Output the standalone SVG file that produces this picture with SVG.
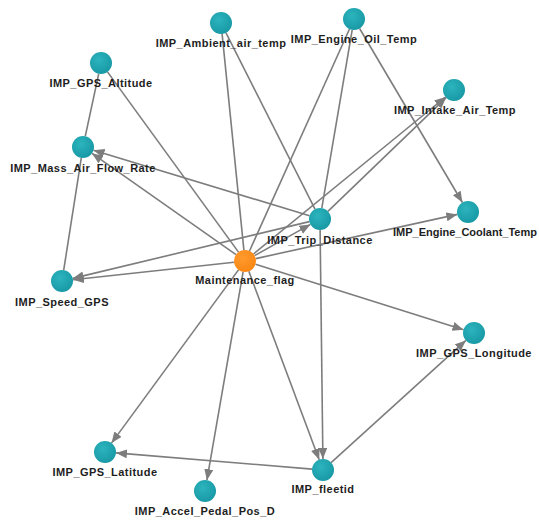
<svg xmlns="http://www.w3.org/2000/svg" width="539" height="521" viewBox="0 0 539 521">
<style>
.e{stroke:#7d7d7d;stroke-width:1.6;fill:none}
.a{marker-end:url(#arr)}
.n{fill:url(#teal)}
.m{fill:url(#orange)}
text{font-family:"Liberation Sans",Arial,sans-serif;font-size:11px;font-weight:bold;fill:#1e1e1e;text-anchor:middle;letter-spacing:0.45px}
</style>
<defs>
<radialGradient id="teal" cx="0.4" cy="0.35" r="0.7">
<stop offset="0" stop-color="#2cb4bd"/>
<stop offset="1" stop-color="#1798a4"/>
</radialGradient>
<radialGradient id="orange" cx="0.4" cy="0.35" r="0.7">
<stop offset="0" stop-color="#ff9a2e"/>
<stop offset="1" stop-color="#fb8612"/>
</radialGradient>
<marker id="arr" markerUnits="userSpaceOnUse" markerWidth="12" markerHeight="10" refX="11" refY="4.5" orient="auto">
<path d="M0,0 L11,4.5 L0,9 z" fill="#7d7d7d"/>
</marker>
</defs>
<rect width="539" height="521" fill="#ffffff"/>
<g id="connectors">
<line class="e" x1="98.7" y1="73.8" x2="85.3" y2="136.2"/>
<line class="e" x1="81.3" y1="157.9" x2="63.7" y2="270.1"/>
<line class="e" x1="107.5" y1="71.9" x2="238.5" y2="252.1"/>
<line class="e" x1="222.1" y1="33.9" x2="243.9" y2="250.1"/>
<line class="e" x1="226" y1="32.8" x2="315" y2="209.2"/>
<line class="e" x1="349.5" y1="29" x2="249.5" y2="251"/>
<line class="e" x1="352.2" y1="29.8" x2="321.8" y2="208.2"/>
<line class="e a" x1="359.6" y1="28.5" x2="462.4" y2="202.5"/>
<line class="e a" x1="253.5" y1="254" x2="445.5" y2="97"/>
<line class="e a" x1="327.9" y1="211.4" x2="446.1" y2="97.6"/>
<line class="e a" x1="309.5" y1="215.8" x2="93.5" y2="150.2"/>
<line class="e a" x1="236" y1="254.7" x2="92" y2="153.3"/>
<line class="e a" x1="234.1" y1="262.2" x2="72.9" y2="279.8"/>
<line class="e a" x1="309.3" y1="221.6" x2="72.7" y2="278.4"/>
<line class="e a" x1="254.6" y1="255.6" x2="310.4" y2="224.4"/>
<line class="e a" x1="255.7" y1="258.6" x2="457.3" y2="214.4"/>
<line class="e a" x1="255.5" y1="264.3" x2="463.5" y2="329.7"/>
<line class="e a" x1="248.8" y1="271.3" x2="319.2" y2="459.7"/>
<line class="e a" x1="320.1" y1="230" x2="322.9" y2="459"/>
<line class="e a" x1="331.1" y1="462.6" x2="465.9" y2="340.4"/>
<line class="e a" x1="312" y1="469.1" x2="116" y2="452.9"/>
<line class="e a" x1="238.5" y1="269.9" x2="111.5" y2="443.1"/>
<line class="e a" x1="243.1" y1="271.8" x2="206.9" y2="480.2"/>
</g>
<g id="n-ambient"><circle class="n" cx="221" cy="23" r="11"/><text x="221" y="47">IMP_Ambient_air_temp</text></g>
<g id="n-oil"><circle class="n" cx="354" cy="19" r="11"/><text x="354" y="43">IMP_Engine_Oil_Temp</text></g>
<g id="n-altitude"><circle class="n" cx="101" cy="63" r="11"/><text x="101" y="87">IMP_GPS_Altitude</text></g>
<g id="n-massair"><circle class="n" cx="83" cy="147" r="11"/><text x="83" y="172">IMP_Mass_Air_Flow_Rate</text></g>
<g id="n-intake"><circle class="n" cx="454" cy="90" r="11"/><text x="455" y="114">IMP_Intake_Air_Temp</text></g>
<g id="n-trip"><circle class="n" cx="320" cy="219" r="11"/><text x="320" y="244">IMP_Trip_Distance</text></g>
<g id="n-coolant"><circle class="n" cx="468" cy="212" r="11"/><text x="537" y="236" style="text-anchor:end;letter-spacing:0px">IMP_Engine_Coolant_Temp</text></g>
<g id="n-maint"><circle class="m" cx="245" cy="261" r="11"/><text x="245" y="284">Maintenance_flag</text></g>
<g id="n-speed"><circle class="n" cx="62" cy="281" r="11"/><text x="62" y="306">IMP_Speed_GPS</text></g>
<g id="n-longitude"><circle class="n" cx="474" cy="333" r="11"/><text x="474" y="357">IMP_GPS_Longitude</text></g>
<g id="n-latitude"><circle class="n" cx="105" cy="452" r="11"/><text x="105" y="476">IMP_GPS_Latitude</text></g>
<g id="n-accel"><circle class="n" cx="205" cy="491" r="11"/><text x="205" y="515">IMP_Accel_Pedal_Pos_D</text></g>
<g id="n-fleetid"><circle class="n" cx="323" cy="470" r="11"/><text x="323" y="493">IMP_fleetid</text></g>
</svg>
